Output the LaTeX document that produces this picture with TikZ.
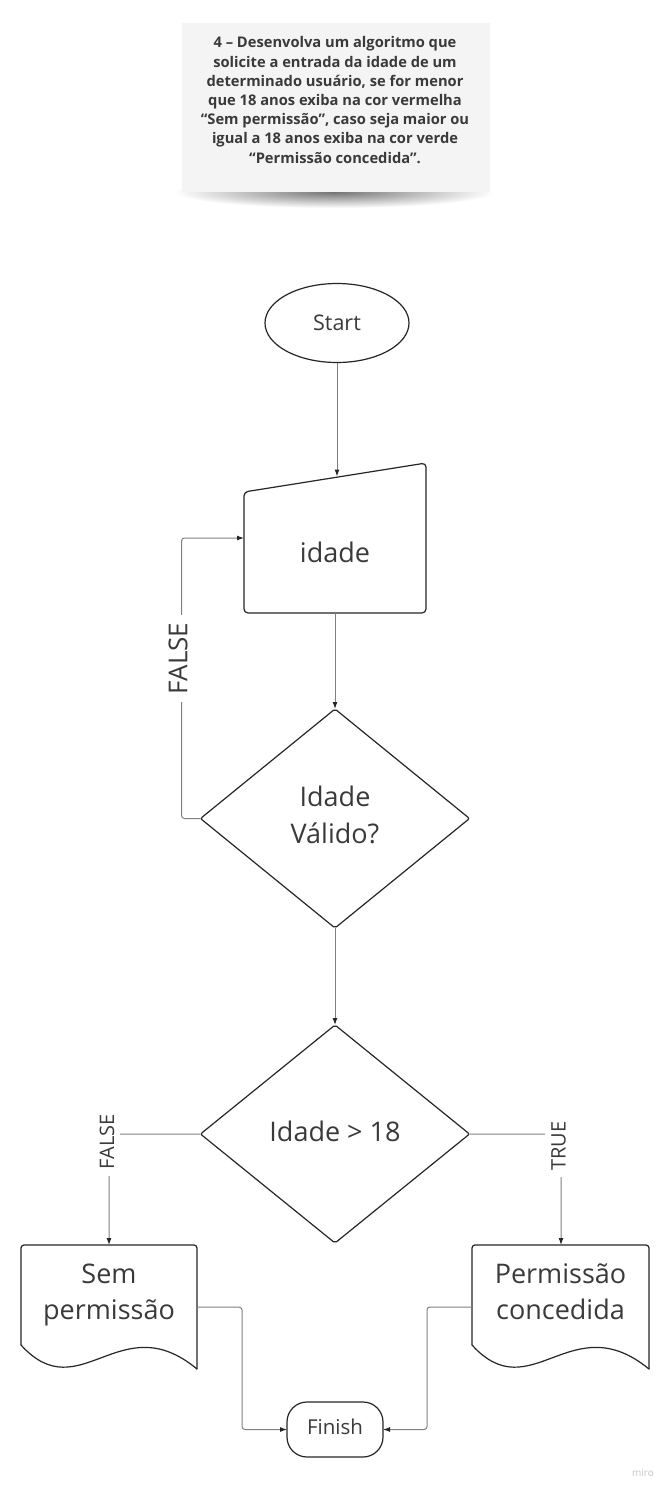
\documentclass[tikz,border=0pt]{standalone}
\usepackage{fontspec}
\setmainfont{Open Sans}
\usetikzlibrary{arrows.meta,shapes.geometric,calc}
\definecolor{txt}{HTML}{3A3A3A}
\definecolor{edge}{HTML}{262626}
\definecolor{conn}{HTML}{808080}
\definecolor{notefill}{HTML}{F4F4F5}
\begin{document}
\begin{tikzpicture}[x=1pt,y=-1pt,
  shp/.style={draw=edge, line width=1.2pt, line join=round, line cap=round},
  lnk/.style={draw=conn, line width=1pt, rounded corners=3pt},
  arr/.style={lnk, -{Latex[length=7pt,width=5pt,color=edge]}},
  lbl/.style={text=txt, align=center, inner sep=0pt, font=\fontsize{27}{36.5}\selectfont},
  tag/.style={fill=white, text=txt, rotate=90, inner sep=6pt},
]
\useasboundingbox (0,0) rectangle (670,1491);
\fill[white] (0,0) rectangle (670,1491);

% note with shadow
\shade[inner color=black!55, outer color=white] (334,192) ellipse [x radius=160pt, y radius=16pt];
\node[fill=notefill, minimum width=308pt, minimum height=169pt, inner sep=0pt] (note) at (336,107.5) {};
\node[text=txt, align=center, inner sep=0pt, font=\bfseries\fontsize{14.7}{19.2}\selectfont] (notetxt) at (335,100)
  {4 – Desenvolva um algoritmo que\\solicite a entrada da idade de um\\determinado usuário, se for menor\\que 18 anos exiba na cor vermelha\\“Sem permissão”, caso seja maior ou\\igual a 18 anos exiba na cor verde\\“Permissão concedida”.};

% start
\node[shp, ellipse, minimum width=144pt, minimum height=79pt, inner sep=0pt, outer sep=0pt, text=txt, font=\fontsize{21.5}{25}\selectfont] (start) at (337,323) {Start};

% manual input
\draw[shp, rounded corners=4pt] (335,613) -- (244,613) -- (244,492) -- (426,463) -- (426,613) -- cycle;
\node[lbl] (idade) at (335,552) {idade};
\coordinate (inpN) at (337,476.5);
\coordinate (inpW) at (244,538);
\coordinate (inpS) at (335,613);

% decision 1
\node[shp, diamond, minimum width=269pt, minimum height=219pt, inner sep=0pt, outer sep=0pt, rounded corners=2pt] (d1) at (335,818.5) {};
\node[lbl] (d1t) at (335,815) {Idade\\Válido?};

% decision 2
\node[shp, diamond, minimum width=269pt, minimum height=218pt, inner sep=0pt, outer sep=0pt, rounded corners=2pt] (d2) at (335,1134) {};
\node[lbl] (d2t) at (335,1131) {Idade > 18};

% document: Sem permissao
\draw[shp, rounded corners=3pt] (21,1345) -- (21,1245) -- (197,1245) -- (197,1369);
\draw[shp] (197,1369) .. controls (120,1305) and (80,1410) .. (21,1345);
\node[lbl] (semt) at (109,1295) {Sem\\permissão};
\coordinate (semN) at (109,1245);
\coordinate (semE) at (197,1307);

% document: Permissao concedida
\draw[shp, rounded corners=3pt] (472,1345) -- (472,1245) -- (649,1245) -- (649,1369);
\draw[shp] (649,1369) .. controls (571,1305) and (531,1410) .. (472,1345);
\node[lbl] (permt) at (560.5,1291.6) {Permissão\\concedida};
\coordinate (permN) at (561,1245);
\coordinate (permW) at (472,1307);

% finish
\node[shp, rounded corners=20pt, minimum width=96pt, minimum height=55pt, inner sep=0pt, outer sep=0pt, text=txt, font=\fontsize{20.5}{24}\selectfont, text height=15.2pt, text depth=6.2pt] (fin) at (335,1429.5) {Finish};

% connectors
\draw[arr] (start.south) -- (inpN);
\draw[arr] (inpS) -- (d1.north);
\draw[arr] (d1.west) -- ++(-19,0) |- (inpW);
\node[tag, font=\fontsize{26}{30}\selectfont, inner sep=8pt] (f1) at (178,658.5) {FALSE};
\draw[arr] (d1.south) -- (d2.north);
\draw[arr] (d2.west) -| (semN);
\node[tag, font=\fontsize{20}{24}\selectfont] (f2) at (107,1142) {FALSE};
\draw[arr] (d2.east) -| (permN);
\node[tag, font=\fontsize{20}{24}\selectfont] (t1) at (558.7,1146) {TRUE};
\draw[arr] (semE) -- ++(45,0) |- (fin.west);
\draw[arr] (permW) -- ++(-45,0) |- (fin.east);

\node[text=gray!45, inner sep=0pt, font=\fontsize{10}{12}\selectfont] (miro) at (643,1473) {miro};
\end{tikzpicture}
\end{document}
